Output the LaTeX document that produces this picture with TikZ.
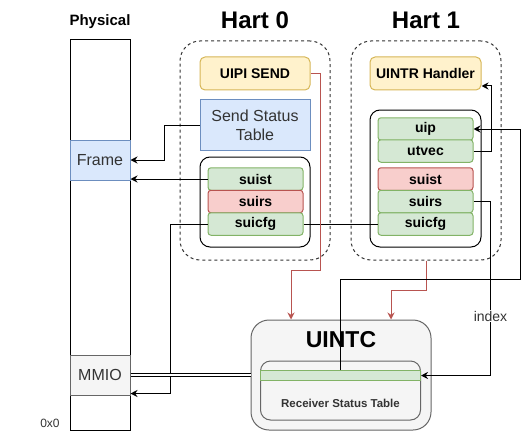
\documentclass[tikz,border=0pt]{standalone}
\usepackage{fontspec}
\setmainfont{Liberation Sans}
\usetikzlibrary{arrows.meta,positioning}
\definecolor{ylwfill}{HTML}{FFF2CC}
\definecolor{ylwline}{HTML}{D6B656}
\definecolor{blufill}{HTML}{DAE8FC}
\definecolor{bluline}{HTML}{6C8EBF}
\definecolor{grnfill}{HTML}{D5E8D4}
\definecolor{grnline}{HTML}{82B366}
\definecolor{redfill}{HTML}{F8CECC}
\definecolor{redline}{HTML}{B85450}
\definecolor{gryfill}{HTML}{F5F5F5}
\definecolor{gryline}{HTML}{666666}
\definecolor{txtgray}{HTML}{333333}

\begin{document}
\begin{tikzpicture}[x=1pt,y=-1pt,line width=1pt,>={Stealth[length=7pt,width=7pt]},
  title/.style={font=\fontsize{24}{28}\selectfont\bfseries},
  lbl/.style={font=\fontsize{14}{16}\selectfont\bfseries},
  memblk/.style={draw,minimum width=60pt,minimum height=40pt,inner sep=0pt,
    text=txtgray,font=\fontsize{16}{19}\selectfont},
  hartbox/.style={draw=txtgray,dash pattern=on 3pt off 3pt,rounded corners=20pt,
    minimum width=150pt,minimum height=219pt},
  csrgrp/.style={draw,rounded corners=10pt,minimum width=110pt},
  unit/.style={draw=ylwline,fill=ylwfill,rounded corners=5pt,minimum width=110pt,
    minimum height=33pt,inner sep=0pt,lbl},
  csr/.style={draw=grnline,fill=grnfill,rounded corners=3pt,minimum width=95pt,
    minimum height=22.5pt,inner sep=0pt,lbl},
  csrred/.style={csr,draw=redline,fill=redfill},
  redarr/.style={->,draw=redline,>={Stealth[length=7pt,width=7pt]}}]
  \useasboundingbox (0,0) rectangle (529,441);

  \node[font=\fontsize{15}{18}\selectfont\bfseries] (physlbl) at (100,22) {Physical};
  \node[draw,minimum width=60pt,minimum height=390pt] (mem) at (100,235) {};
  \node[memblk,draw=bluline,fill=blufill] (frame) at (100,160) {Frame};
  \node[memblk,draw=gryline,fill=gryfill] (mmio) at (100,375) {MMIO};
  \node[font=\fontsize{12}{14}\selectfont,text=txtgray] (zero) at (50,423) {0x0};

  \node[title] (h0title) at (255,20) {Hart 0};
  \node[title] (h1title) at (426,20) {Hart 1};
  \node[hartbox] (hart0) at (255,150.5) {};
  \node[hartbox] (hart1) at (426,150.5) {};

  \node[unit] (uipi) at (255,73.5) {UIPI SEND};
  \node[draw=bluline,fill=blufill,minimum width=110pt,minimum height=50pt,inner sep=0pt,
    align=center,text=txtgray,font=\fontsize{16}{19}\selectfont] (sst) at (255,125)
    {Send Status\\Table};
  \node[csrgrp,minimum height=90pt] (h0grp) at (255,202) {};
  \node[csr] (h0suist) at (255.5,179) {suist};
  \node[csrred] (h0suirs) at (255.5,201.5) {suirs};
  \node[csr] (h0suicfg) at (255.5,224) {suicfg};

  \node[unit,minimum width=111pt] (uintr) at (425.5,73.5) {UINTR Handler};
  \node[csrgrp,minimum width=111pt,minimum height=137pt] (h1grp) at (425.5,178.5) {};
  \node[csr] (uip) at (425.5,129) {uip};
  \node[csr] (utvec) at (425.5,151) {utvec};
  \node[csrred] (h1suist) at (425.5,179) {suist};
  \node[csr] (h1suirs) at (425.5,201.5) {suirs};
  \node[csr] (h1suicfg) at (425.5,224) {suicfg};

  \node[draw=gryline,fill=gryfill,rounded corners=18pt,minimum width=180pt,
    minimum height=110pt] (uintc) at (341,375) {};
  \node[title,font=\fontsize{23}{27}\selectfont\bfseries] (uintclbl) at (341,339.5) {UINTC};
  \node[draw=gryline,rounded corners=10pt,minimum width=160pt,minimum height=59pt]
    (rst) at (340.5,390.5) {};
  \node[draw=grnline,fill=grnfill,minimum width=160pt,minimum height=10pt,inner sep=0pt]
    (strip) at (340.5,375.5) {};
  \node[font=\fontsize{11.5}{14}\selectfont\bfseries,text=txtgray] (rstlbl) at (340.5,403.5)
    {Receiver Status Table};

  \draw[->] (sst.west) -- ++(-35,0) |- (frame.east);
  \draw[->] (h0suist.west) -- (h0suist.west -| frame.east);
  \draw[->] (h0suicfg.west) -- ++(-37.5,0) |- ([yshift=2pt]mmio.south east);
  \draw (h0suicfg.east) -- (h1suicfg.west);
  \draw[double,double distance=2pt] (mmio.east) -- (uintc.west);
  \draw[redarr] (uipi.east) -| (320,270) -| ([xshift=-50pt]uintc.north);
  \draw[redarr] (hart1.south) -- ++(0,30) -| ([xshift=50pt]uintc.north);
  \draw[->] (utvec.east) -- ++(18,0) |- ([yshift=-12.5pt]uintr.east);
  \draw[->] (strip.north) |- ++(179.5,-90.5) |- (uip.east);
  \draw[->] (h1suirs.east) -- ++(17,0) |- node[pos=0.33,fill=white,inner sep=1pt,
    font=\fontsize{14}{16}\selectfont,text=txtgray] (idx) {index} (strip.east);
\end{tikzpicture}
\end{document}
